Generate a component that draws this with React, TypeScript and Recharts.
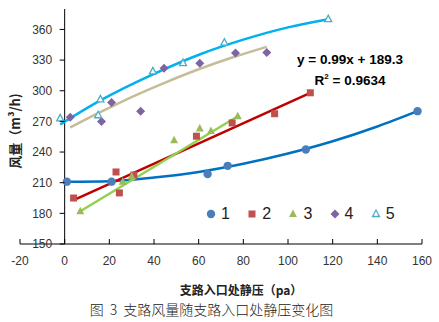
import React from "react";
import {
  ComposedChart,
  Scatter,
  Line,
  XAxis,
  YAxis,
  ReferenceLine,
} from "recharts";

const xTicks = [-20, 0, 20, 40, 60, 80, 100, 120, 140, 160];
const yTicks = [150, 180, 210, 240, 270, 300, 330, 360];
const yDomain = [150, 380];
const seriesNames = ["1", "2", "3", "4", "5"];

// measured points [x, y]
const pts1 = [[1, 211], [21, 211], [64, 218.5], [73, 226.5], [108, 242.5], [158, 280]];
const pts2 = [[4, 195], [23, 220.5], [24.5, 200], [31, 217.5], [59, 255.5], [75, 268.5], [94, 277.5], [110, 298]];
const pts3 = [[7, 182], [26, 211], [30, 216], [49, 251.5], [60.5, 263], [65.5, 260.5], [77.5, 275]];
const pts4 = [[2.5, 274], [16.5, 270], [21, 288.5], [34, 280], [44.5, 322], [60.5, 327], [76.5, 337], [90.5, 337.5]];
const pts5 = [[-2, 273], [15, 276], [16, 291.5], [39.5, 319], [53, 327], [71.5, 347], [118, 370]];

// trendlines
const trend1 = [[1, 211], [20, 211.5], [40, 215], [60, 220.5], [80, 228.5], [100, 238.5], [120, 250.5], [140, 265], [158, 280]];
const trend2 = [[4, 193], [110, 298]];
const trend3 = [[7, 182], [77.5, 275]];
const trend4 = [[2.5, 264], [15, 278], [30, 293.8], [45, 308], [60, 321], [75, 332.5], [90.5, 343]];
const trend5 = [[-2, 267], [16, 290.5], [40, 316.5], [61, 336], [80, 350], [100, 362], [118, 370]];

const markerColors = ["#4A7EBB", "#C0504D", "#9BBB59", "#8064A2", "#4BACC6"];
const trendColors = ["#0070C0", "#C00000", "#92D050", "#C4BD97", "#00B0F0"];

const W = 439;
const H = 322;
const Y_W = 20;
const M = { top: 9, right: 17, left: 0, bottom: 48 };
const plotW = W - M.left - M.right - Y_W;
const yAxisShift = (plotW * (0 - xTicks[0])) / (xTicks[xTicks.length - 1] - xTicks[0]);

const latin = "'Liberation Sans', Arial, 'Noto Sans CJK SC', sans-serif";
const cjk = "'Noto Sans CJK SC', 'Liberation Sans', sans-serif";

const toPts = (a: number[][]) => a.map(([x, y]) => ({ x, y }));

const Marker = ({ kind, cx, cy }: { kind: number; cx: number; cy: number }) => {
  const c = markerColors[kind];
  if (kind === 0) return <circle cx={cx} cy={cy} r={4.2} fill={c} />;
  if (kind === 1) return <rect x={cx - 3.5} y={cy - 3.5} width={7} height={7} fill={c} />;
  if (kind === 2)
    return <polygon points={`${cx},${cy - 4.5} ${cx - 4},${cy + 3} ${cx + 4},${cy + 3}`} fill={c} />;
  if (kind === 3)
    return <polygon points={`${cx},${cy - 4.5} ${cx + 4.5},${cy} ${cx},${cy + 4.5} ${cx - 4.5},${cy}`} fill={c} />;
  return (
    <polygon
      points={`${cx},${cy - 4} ${cx - 3.5},${cy + 2.5} ${cx + 3.5},${cy + 2.5}`}
      fill="#fff"
      stroke={c}
      strokeWidth={1.3}
    />
  );
};

const XTick = (props: any) => {
  const { x, y, payload } = props;
  return (
    <g>
      <line x1={x} x2={x} y1={y - 5} y2={y} stroke="#000" />
      <text x={x} y={y + 17} dy="0.35em" textAnchor="middle" fontSize={12} fill="#333" fontFamily={latin}>
        {payload.value}
      </text>
    </g>
  );
};

const YTick = (props: any) => {
  const { x, y, payload } = props;
  const ax = x + yAxisShift;
  return (
    <g>
      <line x1={ax - 5} x2={ax} y1={y} y2={y} stroke="#000" />
      <text x={ax - 12.5} y={y} dy="0.35em" textAnchor="end" fontSize={12} fill="#333" fontFamily={latin}>
        {payload.value}
      </text>
    </g>
  );
};

const points = [pts1, pts2, pts3, pts4, pts5];
const trends = [trend1, trend2, trend3, trend4, trend5];

const centered = (left: number, top: number): React.CSSProperties => ({
  position: "absolute",
  left,
  top,
  transform: "translate(-50%, -50%)",
  whiteSpace: "nowrap",
  lineHeight: 1,
});

export default function App() {
  return (
    <div style={{ position: "absolute", left: 0, top: 0, width: W, height: H, background: "#fff" }}>
      <ComposedChart width={W} height={H} margin={M}>
        <XAxis
          type="number"
          dataKey="x"
          domain={[xTicks[0], xTicks[xTicks.length - 1]]}
          ticks={xTicks}
          allowDataOverflow
          height={30}
          tickSize={0}
          tickMargin={0}
          tickLine={false}
          axisLine={{ stroke: "#000" }}
          tick={<XTick />}
        />
        <YAxis
          type="number"
          dataKey="y"
          domain={yDomain}
          ticks={yTicks}
          allowDataOverflow
          width={Y_W}
          tickSize={0}
          tickMargin={0}
          tickLine={false}
          axisLine={false}
          tick={<YTick />}
        />
        <ReferenceLine x={0} stroke="#000" />
        {trends.map((t, i) => (
          <Line
            key={"t" + i}
            data={toPts(t)}
            dataKey="y"
            type="monotone"
            stroke={trendColors[i]}
            strokeWidth={2.5}
            dot={false}
            activeDot={false}
            legendType="none"
            isAnimationActive={false}
          />
        ))}
        {points.map((p, i) => (
          <Scatter
            key={"s" + i}
            name={seriesNames[i]}
            data={toPts(p)}
            dataKey="y"
            isAnimationActive={false}
            shape={(sp: any) => <Marker kind={i} cx={sp.cx} cy={sp.cy} />}
          />
        ))}
      </ComposedChart>

      <div style={{ ...centered(14, 131), transform: "translate(-50%, -50%) rotate(-90deg)", fontFamily: cjk, fontWeight: 700, fontSize: 13, color: "#222" }}>
        风量（m³/h)
      </div>
      <div style={{ ...centered(241, 290), fontFamily: cjk, fontWeight: 700, fontSize: 12, color: "#222" }}>
        支路入口处静压（pa）
      </div>
      <div style={{ ...centered(211.5, 309), fontFamily: cjk, fontWeight: 300, fontSize: 14, color: "#222", wordSpacing: 3 }}>
        图 3 支路风量随支路入口处静压变化图
      </div>
      <div style={{ ...centered(350, 59.5), fontFamily: latin, fontWeight: 700, fontSize: 13.5, color: "#000" }}>
        y = 0.99x + 189.3
      </div>
      <div style={{ ...centered(350, 80), fontFamily: latin, fontWeight: 700, fontSize: 13.5, color: "#000" }}>
        R<sup style={{ fontSize: 8, verticalAlign: 6 }}>2</sup> = 0.9634
      </div>

      {seriesNames.map((n, i) => (
        <div key={n} style={{ position: "absolute", left: 205 + i * 41.2, top: 214, transform: "translateY(-50%)", display: "flex", alignItems: "center" }}>
          <svg width={12} height={12} style={{ display: "block" }}>
            <Marker kind={i} cx={6} cy={6} />
          </svg>
          <span style={{ fontFamily: latin, fontSize: 16, color: "#222", marginLeft: 4, lineHeight: 1 }}>{n}</span>
        </div>
      ))}
    </div>
  );
}
